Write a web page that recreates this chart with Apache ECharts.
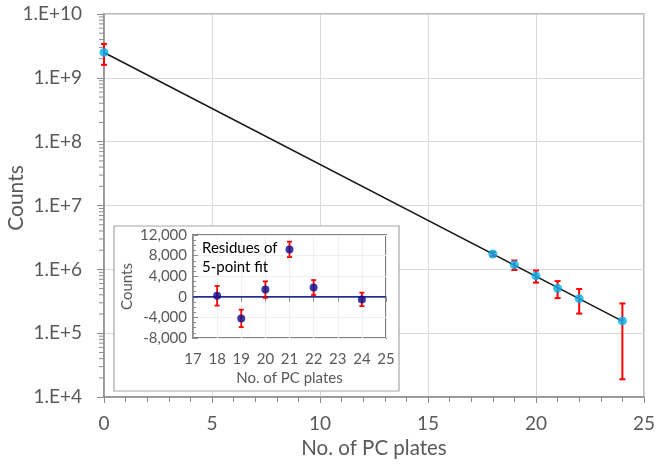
<!DOCTYPE html>
<html>
<head>
<meta charset="utf-8">
<script src="https://cdn.jsdelivr.net/npm/echarts@6/dist/echarts.min.js"></script>
<style>
  html, body { margin: 0; padding: 0; background: #fff; }
  #chart { width: 658px; height: 464px; }
</style>
</head>
<body>
<div id="chart"></div>
<script>
// Attenuation measurement: counts vs. number of PC plates
const plates = [0, 18, 19, 20, 21, 22, 24];
const counts = [2.5e9, 1.74e6, 1.18e6, 7.9e5, 5.05e5, 3.48e5, 1.56e5];
const countErrors = [0.9e9, 1.3e5, 2.0e5, 1.7e5, 1.5e5, 1.45e5, 1.37e5];

// Exponential fit (straight in log scale), end points
const fitPlates = [0, 24];
const fitCounts = [2.5e9, 1.55e5];

// Residues of the 5-point fit
const residPlates = [18, 19, 20, 21, 22, 24];
const residues = [200, -4200, 1400, 9200, 1800, -500];
const residErrors = [1900, 1700, 1600, 1500, 1450, 1300];

// Zero reference for the residue panel
const zeroLine = [[17, 0], [25, 0]];

// Log-axis minor tick values (2..9 within each decade)
const decades = [4, 5, 6, 7, 8, 9];
const minorMultipliers = [2, 3, 4, 5, 6, 7, 8, 9];

const FONT = 'Lato';
const TXT = '#595959';
const AXIS = '#8c8c8c';

const mainData = plates.map((p, i) => [p, counts[i]]);
const mainErr = plates.map((p, i) => [p, counts[i] - countErrors[i], counts[i] + countErrors[i]]);
const fitData = fitPlates.map((p, i) => [p, fitCounts[i]]);
const residData = residPlates.map((p, i) => [p, residues[i]]);
const residErr = residPlates.map((p, i) => [p, residues[i] - residErrors[i], residues[i] + residErrors[i]]);
const logMinor = [];
decades.forEach(d => minorMultipliers.forEach(m => logMinor.push([0, m * Math.pow(10, d)])));

function errorBar(capHalf, width) {
  return function (params, api) {
    const x = api.value(0);
    const lo = api.coord([x, api.value(1)]);
    const hi = api.coord([x, api.value(2)]);
    const st = { stroke: '#ff0000', lineWidth: width };
    return {
      type: 'group',
      children: [
        { type: 'line', shape: { x1: lo[0], y1: lo[1], x2: hi[0], y2: hi[1] }, style: st },
        { type: 'line', shape: { x1: lo[0] - capHalf, y1: lo[1], x2: lo[0] + capHalf, y2: lo[1] }, style: st },
        { type: 'line', shape: { x1: hi[0] - capHalf, y1: hi[1], x2: hi[0] + capHalf, y2: hi[1] }, style: st }
      ]
    };
  };
}

function logMinorTick(params, api) {
  const p = api.coord([api.value(0), api.value(1)]);
  return {
    type: 'line',
    shape: { x1: p[0] - 5, y1: p[1], x2: p[0], y2: p[1] },
    style: { stroke: AXIS, lineWidth: 1 }
  };
}

const chart = echarts.init(document.getElementById('chart'), null, { renderer: 'canvas' });

chart.setOption({
  animation: false,
  backgroundColor: '#ffffff',
  textStyle: { fontFamily: FONT },
  grid: [
    { left: 104, top: 14, right: 10, bottom: 66, show: true, borderColor: '#a6a6a6', borderWidth: 1.5, z: 0 },
    { left: 193, top: 235, width: 193, height: 103, show: true, borderColor: '#7f7f7f', borderWidth: 2, backgroundColor: 'rgba(0,0,0,0)', z: 4 }
  ],
  graphic: [
    {
      type: 'text', z: 1, x: 16, y: 198, rotation: Math.PI / 2,
      style: { text: 'Counts', font: '21px Lato', fill: TXT, align: 'center', verticalAlign: 'middle' }
    },
    {
      type: 'rect', z: 3,
      shape: { x: 114, y: 226, width: 285, height: 165 },
      style: { fill: '#ffffff', stroke: '#a6a6a6', lineWidth: 1.2 }
    },
    {
      type: 'text', z: 10, left: 202, top: 239,
      style: { text: 'Residues of\n5-point fit', font: '15px Lato', fill: '#000000', lineHeight: 19 }
    }
  ],
  xAxis: [
    {
      gridIndex: 0, type: 'value', min: 0, max: 25, interval: 5,
      name: 'No. of PC plates', nameLocation: 'middle', nameGap: 36,
      nameTextStyle: { fontSize: 20.5, color: TXT, fontFamily: FONT },
      axisLine: { lineStyle: { color: AXIS, width: 1.5 } },
      axisTick: { show: true, length: 6, lineStyle: { color: AXIS } },
      minorTick: { show: true, splitNumber: 5, length: 5, lineStyle: { color: AXIS } },
      axisLabel: { fontSize: 19, color: TXT, margin: 17, fontFamily: FONT },
      splitLine: { show: true, lineStyle: { color: '#d9d9d9', width: 1 } },
      z: 0
    },
    {
      gridIndex: 1, type: 'value', min: 17, max: 25, interval: 1,
      name: 'No. of PC plates', nameLocation: 'middle', nameGap: 33,
      nameTextStyle: { fontSize: 15, color: TXT, fontFamily: FONT },
      axisLine: { lineStyle: { color: AXIS, width: 1.5 } },
      axisTick: { show: true, length: 5, lineStyle: { color: AXIS } },
      axisLabel: { fontSize: 15, color: TXT, margin: 14, fontFamily: FONT },
      splitLine: { show: true, lineStyle: { color: '#f0f0f0', width: 1 } },
      z: 5
    }
  ],
  yAxis: [
    {
      gridIndex: 0, type: 'log', logBase: 10, min: 1e4, max: 1e10, splitNumber: 6,
      axisLine: { show: true, lineStyle: { color: AXIS, width: 1.5 } },
      axisTick: { show: true, length: 7, lineStyle: { color: AXIS } },
      axisLabel: {
        fontSize: 19, color: TXT, margin: 22, fontFamily: FONT,
        formatter: v => '1.E+' + Math.round(Math.log10(v))
      },
      splitLine: { show: true, lineStyle: { color: '#d9d9d9', width: 1 } },
      z: 0
    },
    {
      gridIndex: 1, type: 'value', min: -8000, max: 12000, interval: 4000,
      name: 'Counts', nameLocation: 'middle', nameGap: 58, nameRotate: 90,
      nameTextStyle: { fontSize: 15, color: TXT, fontFamily: FONT },
      axisLine: { show: true, lineStyle: { color: AXIS, width: 1.5 } },
      axisTick: { show: true, inside: true, length: 5, lineStyle: { color: AXIS } },
      minorTick: { show: true, splitNumber: 4, length: 3, lineStyle: { color: AXIS } },
      axisLabel: {
        fontSize: 15, color: TXT, margin: 6, fontFamily: FONT,
        formatter: v => v.toLocaleString('en-US')
      },
      splitLine: { show: true, lineStyle: { color: '#f0f0f0', width: 1 } },
      z: 5
    }
  ],
  series: [
    {
      type: 'custom', name: 'logMinorTicks', xAxisIndex: 0, yAxisIndex: 0,
      data: logMinor, renderItem: logMinorTick, clip: false, silent: true, z: 1,
      encode: { x: 0, y: 1 }
    },
    {
      type: 'line', name: 'fit', xAxisIndex: 0, yAxisIndex: 0,
      data: fitData, showSymbol: false, symbol: 'none',
      lineStyle: { color: '#1a1a1a', width: 1.6 }, z: 2
    },
    {
      type: 'custom', name: 'countErr', xAxisIndex: 0, yAxisIndex: 0,
      data: mainErr, renderItem: errorBar(3, 2), encode: { x: 0, y: [1, 2] }, clip: false, z: 3
    },
    {
      type: 'scatter', name: 'counts', xAxisIndex: 0, yAxisIndex: 0,
      data: mainData, symbol: 'circle', symbolSize: 9,
      itemStyle: { color: '#00b0f0' }, z: 4
    },
    {
      type: 'line', name: 'zero', xAxisIndex: 1, yAxisIndex: 1,
      data: zeroLine, showSymbol: false, symbol: 'none',
      lineStyle: { color: '#1f2d9e', width: 1.5 }, z: 6
    },
    {
      type: 'custom', name: 'residErr', xAxisIndex: 1, yAxisIndex: 1,
      data: residErr, renderItem: errorBar(2.5, 1.8), encode: { x: 0, y: [1, 2] }, clip: false, z: 7
    },
    {
      type: 'scatter', name: 'residues', xAxisIndex: 1, yAxisIndex: 1,
      data: residData, symbol: 'circle', symbolSize: 8,
      itemStyle: { color: '#0a0a8c' }, z: 8
    }
  ]
});
</script>
</body>
</html>
